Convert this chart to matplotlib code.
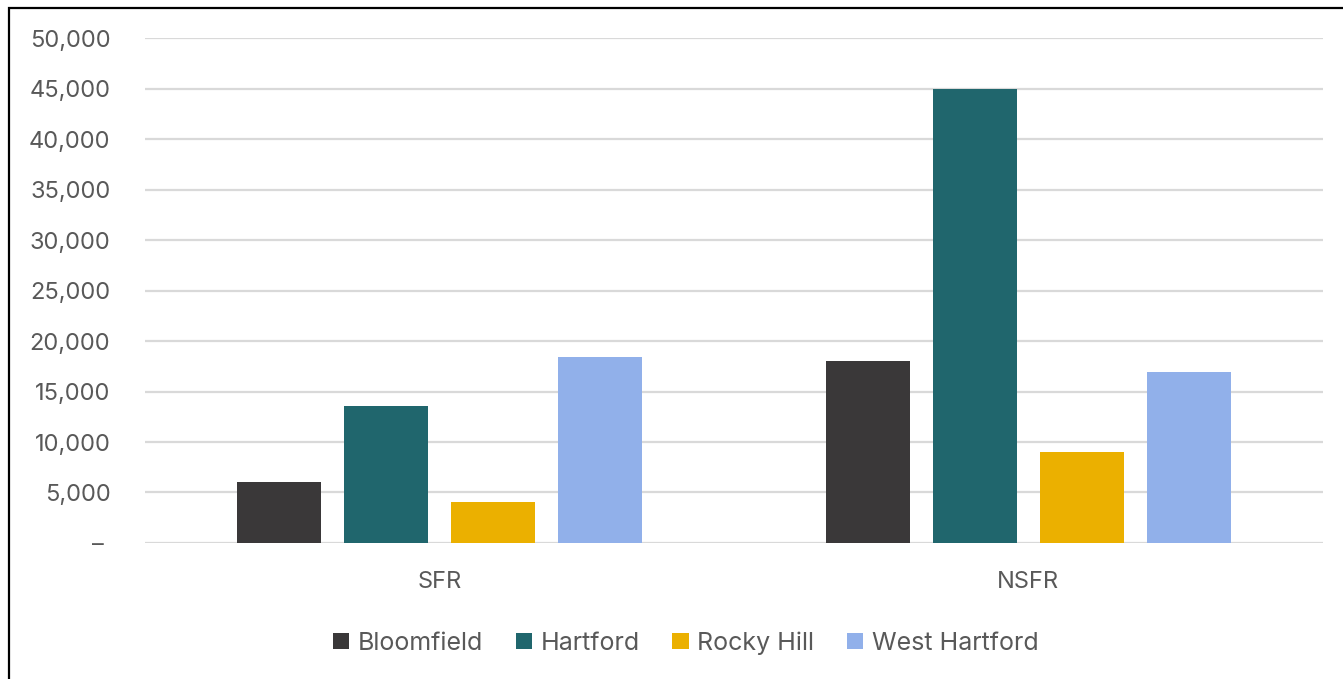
import matplotlib.pyplot as plt
import numpy as np
from matplotlib.patches import Rectangle
from matplotlib.ticker import FuncFormatter

categories = ['SFR', 'NSFR']
towns = ['Bloomfield', 'Hartford', 'Rocky Hill', 'West Hartford']
bloomfield = [6000, 18000]
hartford = [13600, 45000]
rocky_hill = [4100, 9000]
west_hartford = [18400, 16900]
colors = ['#3a3839', '#20666d', '#ebb000', '#91b0ea']

plt.rcParams['font.family'] = ['Inter', 'DejaVu Sans']
txt = '#595959'

fig = plt.figure(figsize=(13.43, 6.79), dpi=100)
ax = fig.add_axes([0.108, 0.2003, 0.877, 0.7437])

x = np.arange(len(categories))
width = 0.1426
step = 0.1817
series = [bloomfield, hartford, rocky_hill, west_hartford]
for i, (vals, name) in enumerate(zip(series, towns)):
    ax.bar(x + (i - 1.5) * step, vals, width, color=colors[i], label=name, zorder=3)

ax.set_xlim(-0.5, 1.5)
ax.set_ylim(0, 50000)
ax.set_yticks(range(0, 50001, 5000))
ax.yaxis.set_major_formatter(FuncFormatter(lambda v, p: '\u2013 ' if v == 0 else f'{int(v):,}'))
ax.set_xticks(x)
ax.set_xticklabels(categories)
ax.grid(axis='y', color='#d9d9d9', linewidth=1.6, zorder=0)
for s in ax.spines.values():
    s.set_visible(False)
ax.tick_params(axis='both', length=0, labelsize=17, colors=txt)
ax.tick_params(axis='y', pad=25)
ax.tick_params(axis='x', pad=20)

leg = ax.legend(loc='upper center', bbox_to_anchor=(0.459, -0.13), ncol=4, frameon=False,
                fontsize=18, handlelength=0.65, handleheight=0.65, handletextpad=0.35,
                columnspacing=1.3)
for t in leg.get_texts():
    t.set_color(txt)

# outer frame line along the left and top edges
fig.add_artist(Rectangle((0.0065, -0.1), 1.2, 1.1 - 0.0125, transform=fig.transFigure,
                         fill=False, edgecolor='black', linewidth=1.6))

fig.savefig('out.png', dpi=100)
